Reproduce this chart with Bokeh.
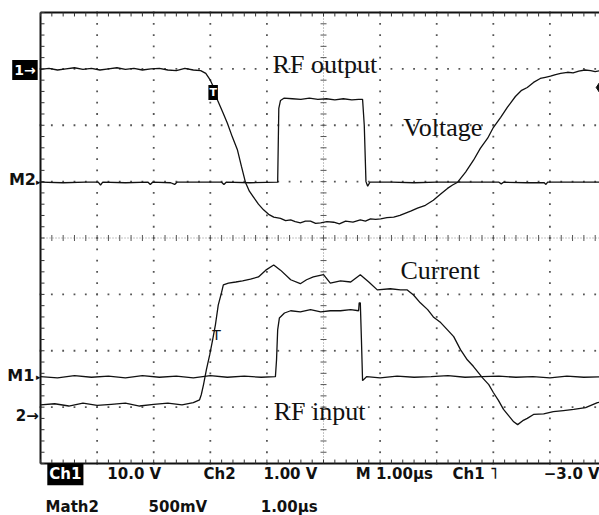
from bokeh.plotting import figure
from bokeh.models import Range1d, Label
from bokeh.embed import file_html
from bokeh.resources import INLINE
import numpy as np

# time in µs (1.00 µs/div); vertical values in screen divisions
ch1_t = [0, 0.15, 0.3, 0.45, 0.6, 0.75, 0.9, 1.05, 1.2, 1.35, 1.5, 1.65, 1.8, 1.95, 2.1, 2.25, 2.4, 2.55, 2.7, 2.83,
         2.92, 3.00, 3.06, 3.13, 3.22, 3.30, 3.39, 3.48, 3.55, 3.62, 3.69, 3.76, 3.85, 3.94, 4.03, 4.12, 4.24, 4.33, 4.42, 4.50,
         4.59, 4.68, 4.77, 4.86, 4.95, 5.06, 5.18, 5.28, 5.39, 5.52, 5.65, 5.74, 5.83, 5.92, 6.01, 6.12, 6.24, 6.35, 6.45, 6.55,
         6.66, 6.80, 6.94, 7.07, 7.19, 7.28, 7.37, 7.51, 7.65, 7.77, 7.90, 8.00, 8.13, 8.25, 8.39, 8.50, 8.60, 8.71, 8.83, 8.92,
         9.01, 9.10, 9.19, 9.31, 9.41, 9.51, 9.62, 9.72, 9.80, 9.89, 10.0]
ch1_voltage = [2.99, 3.01, 2.98, 3.00, 3.02, 2.99, 3.01, 2.98, 3.00, 3.02, 2.99, 3.01, 2.98, 3.00, 3.01, 2.98, 2.97, 3.01, 2.98, 2.97,
               2.92, 2.80, 2.67, 2.44, 2.23, 2.04, 1.79, 1.56, 1.27, 0.99, 0.83, 0.73, 0.60, 0.50, 0.42, 0.37, 0.35, 0.31, 0.32, 0.29,
               0.27, 0.30, 0.30, 0.26, 0.27, 0.29, 0.28, 0.25, 0.30, 0.28, 0.32, 0.30, 0.34, 0.33, 0.34, 0.36, 0.37, 0.40, 0.44, 0.48,
               0.53, 0.58, 0.67, 0.78, 0.88, 0.94, 0.99, 1.17, 1.38, 1.59, 1.77, 1.96, 2.14, 2.32, 2.51, 2.62, 2.67, 2.76, 2.83, 2.85,
               2.87, 2.90, 2.92, 2.94, 2.93, 2.96, 2.98, 2.97, 2.95, 2.97, 2.96]

m2_t = [0, 0.4, 0.8, 1.02, 1.06, 1.10, 1.5, 1.90, 1.94, 1.98, 2.3, 2.37, 2.41, 2.8, 3.2, 3.24, 3.28, 3.7, 4.19, 4.21,
        4.24, 4.30, 4.45, 4.6, 4.75, 4.9, 5.05, 5.2, 5.35, 5.5, 5.62, 5.69, 5.72, 5.75, 5.78, 5.82, 6.2, 6.6, 7.0, 7.4,
        7.8, 8.10, 8.14, 8.18, 8.6, 8.90, 8.93, 8.96, 9.4, 9.8, 10.0]
m2_rf_output = [0.99, 0.98, 0.99, 0.99, 0.94, 0.99, 0.98, 0.99, 0.95, 0.99, 0.98, 0.95, 0.99, 0.99, 0.99, 0.95, 0.99, 0.98, 0.99, 2.30,
                2.44, 2.48, 2.47, 2.46, 2.48, 2.46, 2.47, 2.45, 2.47, 2.45, 2.46, 2.46, 2.0, 1.0, 0.92, 0.99, 0.99, 0.98, 0.99, 0.99,
                0.99, 0.99, 0.96, 0.99, 0.98, 0.98, 0.95, 0.99, 0.99, 0.99, 0.99]

ch2_t = [0, 0.25, 0.5, 0.75, 1.0, 1.25, 1.5, 1.75, 2.0, 2.25, 2.5, 2.7, 2.81, 2.84, 2.88, 2.93, 2.99, 3.04, 3.09, 3.14,
         3.20, 3.23, 3.32, 3.45, 3.57, 3.71, 3.85, 3.98, 4.12, 4.24, 4.42, 4.59, 4.70, 4.82, 5.00, 5.12, 5.30, 5.48, 5.65, 5.80,
         5.95, 6.18, 6.36, 6.48, 6.59, 6.71, 6.84, 6.94, 7.07, 7.19, 7.30, 7.42, 7.54, 7.65, 7.81, 7.92, 8.00, 8.09, 8.18, 8.27,
         8.36, 8.43, 8.52, 8.60, 8.71, 8.89, 9.06, 9.24, 9.42, 9.63, 9.84, 10.0]
ch2_current = [-2.96, -2.94, -2.98, -2.93, -2.97, -2.95, -2.93, -2.98, -2.95, -2.93, -2.96, -2.92, -2.87, -2.78, -2.60, -2.34, -2.07, -1.81, -1.54, -1.19,
               -0.96, -0.83, -0.80, -0.78, -0.76, -0.73, -0.69, -0.57, -0.48, -0.57, -0.74, -0.81, -0.74, -0.69, -0.65, -0.80, -0.76, -0.78, -0.65, -0.78,
               -0.92, -0.90, -0.92, -0.92, -1.01, -1.15, -1.27, -1.40, -1.50, -1.63, -1.75, -1.98, -2.16, -2.28, -2.48, -2.60, -2.74, -2.88, -3.04, -3.15,
               -3.26, -3.31, -3.24, -3.20, -3.13, -3.12, -3.08, -3.06, -3.04, -3.01, -2.92, -2.90]

m1_t = [0, 0.3, 0.6, 0.9, 1.2, 1.5, 1.8, 2.1, 2.4, 2.7, 3.0, 3.3, 3.6, 3.9, 4.15, 4.17, 4.19, 4.22, 4.31, 4.42,
        4.59, 4.77, 4.95, 5.12, 5.30, 5.48, 5.62, 5.63, 5.65, 5.67, 5.69, 5.76, 6.0, 6.3, 6.6, 6.9, 7.2, 7.5, 7.8, 8.1,
        8.4, 8.7, 9.0, 9.3, 9.6, 10.0]
m1_rf_input = [-2.46, -2.48, -2.44, -2.47, -2.45, -2.48, -2.44, -2.47, -2.45, -2.48, -2.44, -2.47, -2.45, -2.47, -2.46, -2.16, -1.63, -1.42, -1.33, -1.29,
               -1.31, -1.27, -1.31, -1.29, -1.29, -1.27, -1.29, -1.15, -1.15, -1.81, -2.53, -2.46, -2.48, -2.45, -2.47, -2.46, -2.44, -2.47, -2.46, -2.45,
               -2.47, -2.46, -2.48, -2.45, -2.47, -2.46]

trig_level_t = [9.9]
trig_level_v = [2.67]

# view window: graticule (10 x 8 div) plus the label margins around it
X0, X1 = -0.707, 9.876
Y0, Y1 = -4.922, 4.213
p = figure(width=599, height=515, output_backend="svg", toolbar_location=None,
           x_range=Range1d(X0, X1), y_range=Range1d(Y0, Y1),
           x_axis_location=None, y_axis_location=None,
           min_border=0)
p.grid.visible = False
p.outline_line_color = None
p.background_fill_color = "white"
p.border_fill_color = "white"

# graticule dots
steps_y = np.round(np.arange(-4, 4.001, 0.2), 3)
steps_x = np.round(np.arange(0, X1, 0.2), 3)
gx, gy = [], []
for xv in range(1, 10):
    if xv == 5:
        continue
    for yv in steps_y:
        gx.append(xv); gy.append(yv)
for yv in range(-3, 4):
    if yv == 0:
        continue
    for xv in steps_x:
        gx.append(xv); gy.append(yv)
p.scatter(gx, gy, marker="square", size=1.8, fill_color="#555", line_color=None)

# center cross
p.segment(x0=[5, 0], y0=[-4, 0], x1=[5, X1], y1=[4, 0], line_color="#888", line_width=1, line_dash="1 2")
p.scatter([5] * len(steps_y), steps_y, marker="dash", size=6, line_color="#555", line_width=1)
p.scatter(steps_x, [0] * len(steps_x), marker="dash", angle=np.pi / 2, size=6, line_color="#555", line_width=1)

# graticule edges with inward ticks
p.segment(x0=[0, 0, 0], y0=[-4, 4, -4], x1=[0, X1, X1], y1=[4, 4, -4], line_color="#111", line_width=2)
p.scatter([0.035] * len(steps_y), steps_y, marker="dash", size=4, line_color="#333", line_width=1)
p.scatter(steps_x, [3.965] * len(steps_x), marker="dash", angle=np.pi / 2, size=4, line_color="#333", line_width=1)
p.scatter(steps_x, [-3.965] * len(steps_x), marker="dash", angle=np.pi / 2, size=4, line_color="#333", line_width=1)

# traces
for t, v in [(ch1_t, ch1_voltage), (m2_t, m2_rf_output), (ch2_t, ch2_current), (m1_t, m1_rf_input)]:
    p.line(t, v, line_color="#111", line_width=1.3)

p.scatter(trig_level_t, trig_level_v, marker="diamond", size=14, fill_color="#111", line_color="#111")

# annotations (serif)
serif = "Liberation Serif"
for txt, x, y in [("RF output", 4.10, 3.08), ("Voltage", 6.41, 1.96), ("Current", 6.36, -0.58), ("RF input", 4.12, -3.07)]:
    p.add_layout(Label(x=x, y=y, text=txt, text_font=serif, text_font_size="26px", text_color="#111",
                       text_baseline="alphabetic"))

sans = "DejaVu Sans"
# channel markers on the left
p.add_layout(Label(x=-0.05, y=2.98, text="1→", text_align="right", text_baseline="middle", text_color="white",
                   background_fill_color="black", text_font=sans, text_font_style="bold", text_font_size="14px", padding=2))
p.add_layout(Label(x=-0.08, y=1.03, text="M2", text_align="right", text_baseline="middle", text_color="#111",
                   text_font=sans, text_font_style="bold", text_font_size="16px"))
p.add_layout(Label(x=0, y=0.99, text="▸", text_align="right", text_baseline="middle", text_color="#111",
                   text_font=sans, text_font_size="9px"))
p.add_layout(Label(x=-0.11, y=-2.43, text="M1", text_align="right", text_baseline="middle", text_color="#111",
                   text_font=sans, text_font_style="bold", text_font_size="16px"))
p.add_layout(Label(x=0, y=-2.46, text="▸", text_align="right", text_baseline="middle", text_color="#111",
                   text_font=sans, text_font_size="9px"))
p.add_layout(Label(x=-0.03, y=-3.15, text="2→", text_align="right", text_baseline="middle", text_color="#111",
                   text_font=sans, text_font_style="bold", text_font_size="15px"))

# trigger markers
p.add_layout(Label(x=3.05, y=2.58, text="T", text_align="center", text_baseline="middle", text_color="white",
                   background_fill_color="black", text_font=sans, text_font_style="bold", text_font_size="11px", padding=1))
p.add_layout(Label(x=3.11, y=-1.72, text="T", text_align="center", text_baseline="middle", text_color="#111",
                   text_font=sans, text_font_size="14px"))

# status readout below the graticule
row1 = -4.19
row2 = -4.77
p.add_layout(Label(x=0.12, y=row1, text="Ch1", text_baseline="alphabetic", text_color="white",
                   background_fill_color="black", text_font=sans, text_font_style="bold", text_font_size="15px", padding=2))
for txt, x in [("10.0 V", 1.18), ("Ch2", 2.88), ("1.00 V", 3.94), ("M 1.00µs", 5.57), ("Ch1 ˥", 7.28), ("−3.0 V", 8.89)]:
    p.add_layout(Label(x=x, y=row1, text=txt, text_baseline="alphabetic", text_color="#111",
                       text_font=sans, text_font_style="bold", text_font_size="15px"))
for txt, x in [("Math2", 0.09), ("500mV", 1.91), ("1.00µs", 3.89)]:
    p.add_layout(Label(x=x, y=row2, text=txt, text_baseline="alphabetic", text_color="#111",
                       text_font=sans, text_font_style="bold", text_font_size="15px"))

open("out.html", "w").write(file_html(p, INLINE))
